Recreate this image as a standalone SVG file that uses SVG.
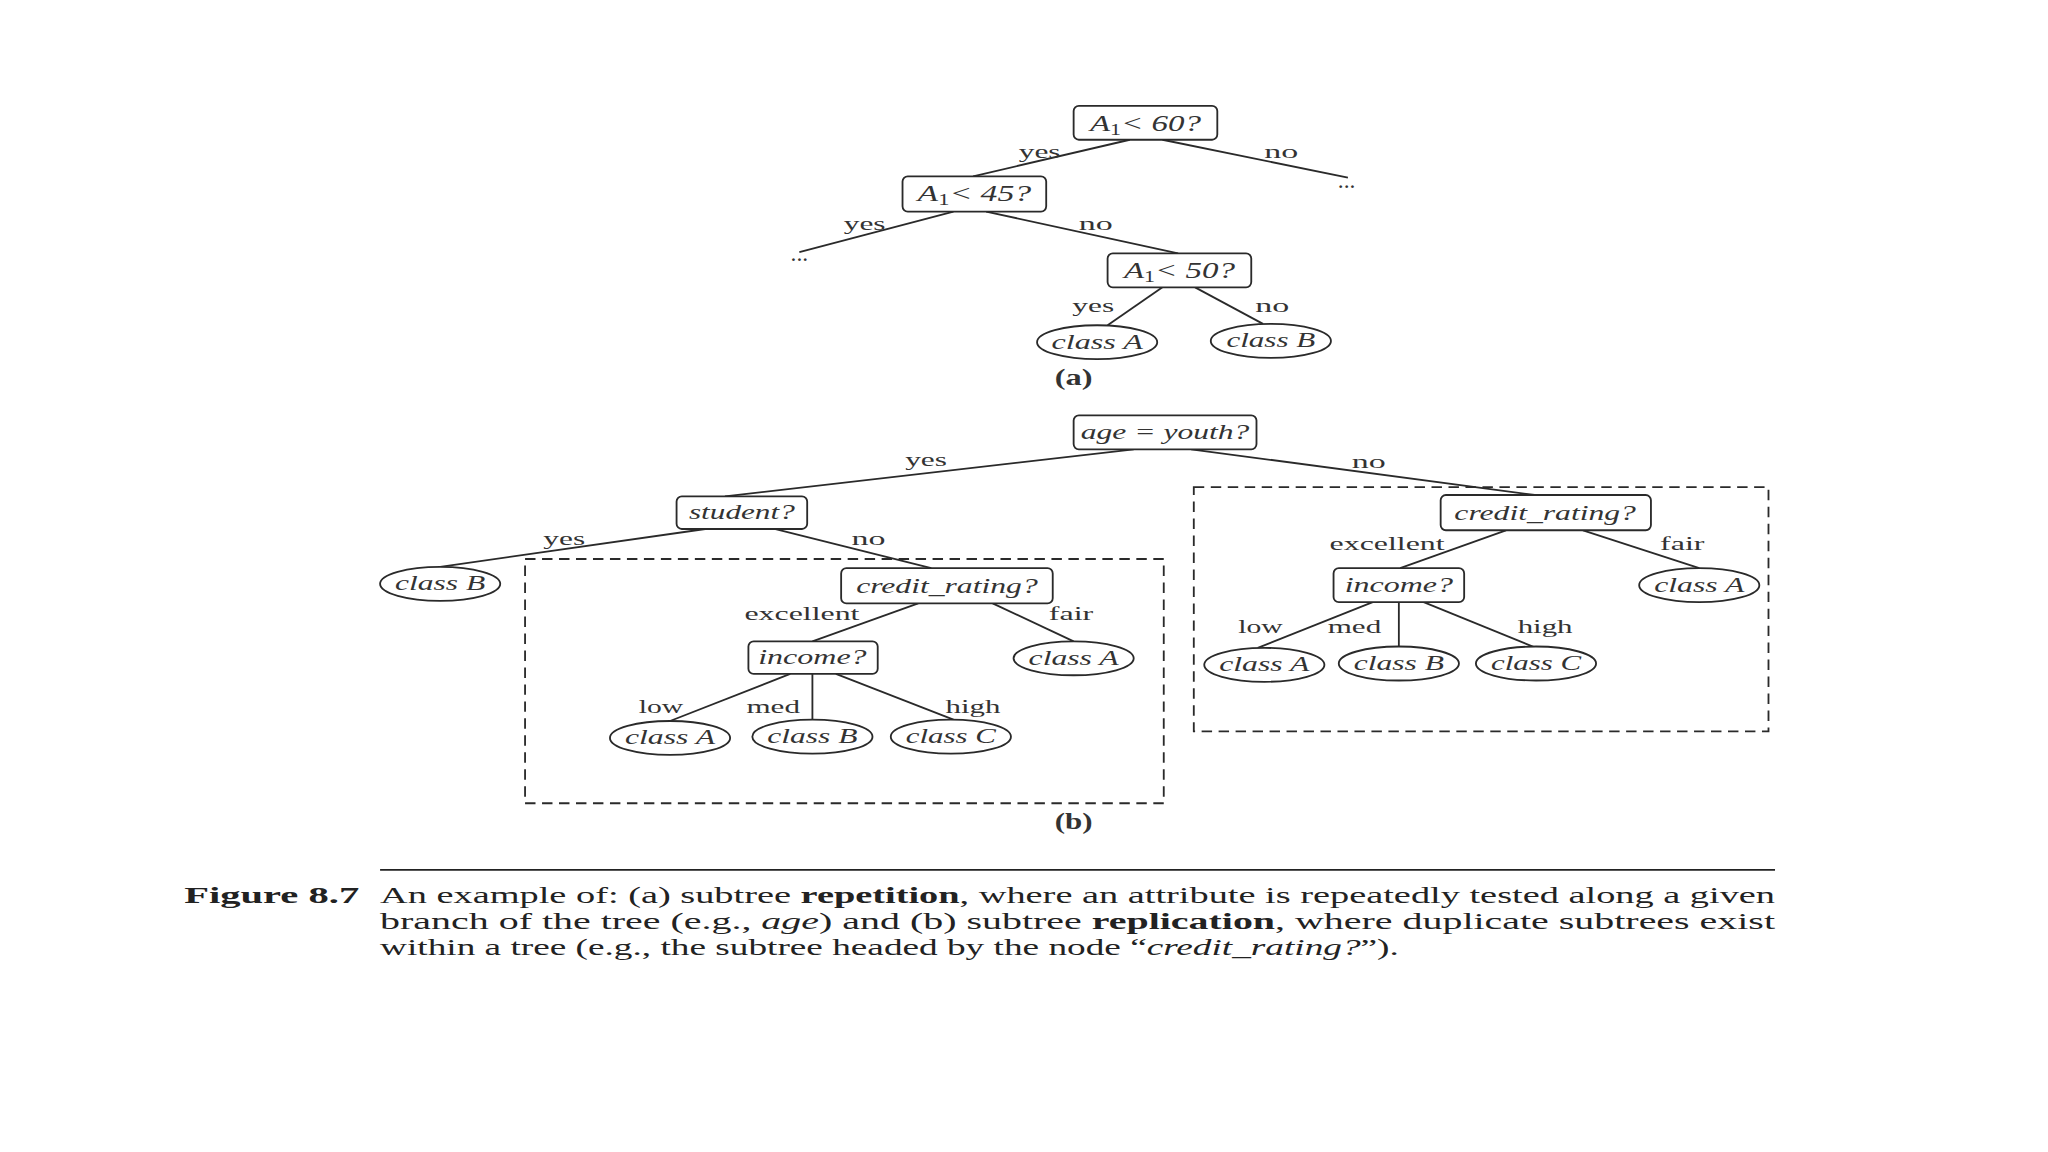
<svg xmlns="http://www.w3.org/2000/svg" width="2048" height="1152" viewBox="0 0 2048 1152">
<style>
.nd{fill:#fff;stroke:#2a2a2a;stroke-width:1.4}
.lf{fill:#fff;stroke:#2a2a2a;stroke-width:1.4}
.ed{stroke:#2a2a2a;stroke-width:1.4;fill:none}
.dash{fill:none;stroke:#2a2a2a;stroke-width:1.4;stroke-dasharray:8 5}
.nt{font-family:"Liberation Serif",serif;font-style:italic;font-size:16px;fill:#333;text-anchor:middle}
.at{font-family:"Liberation Serif",serif;font-style:italic;font-size:18px;fill:#333;text-anchor:middle}
.el{font-family:"Liberation Serif",serif;font-size:15px;fill:#333;text-anchor:middle}
.dots{font-family:"Liberation Serif",serif;font-size:18px;fill:#333;text-anchor:middle}
.lbl{font-family:"Liberation Serif",serif;font-size:17px;font-weight:bold;fill:#333;text-anchor:middle}
.cap{font-family:"Liberation Serif",serif;font-size:18px;fill:#222}
.sub{font-style:normal;font-size:12px}
</style>
<rect width="2048" height="1152" fill="#fff"/>
<g transform="scale(1.306122)">
<g id="connectors">
<line class="ed" x1="865" y1="107" x2="745" y2="135"/>
<line class="ed" x1="890" y1="107" x2="1032" y2="136"/>
<line class="ed" x1="730" y1="162" x2="612" y2="193"/>
<line class="ed" x1="755" y1="162" x2="902" y2="194"/>
<line class="ed" x1="890" y1="220" x2="848" y2="249"/>
<line class="ed" x1="915" y1="220" x2="967" y2="248"/>
<line class="ed" x1="868" y1="344" x2="555" y2="380"/>
<line class="ed" x1="912" y1="344" x2="1175" y2="379"/>
<line class="ed" x1="540" y1="405" x2="337" y2="434"/>
<line class="ed" x1="593" y1="405" x2="713" y2="435"/>
<line class="ed" x1="703" y1="462" x2="622" y2="491"/>
<line class="ed" x1="760" y1="462" x2="822" y2="491"/>
<line class="ed" x1="605" y1="516" x2="513" y2="552"/>
<line class="ed" x1="622" y1="516" x2="622" y2="551"/>
<line class="ed" x1="640" y1="516" x2="730" y2="551"/>
<line class="ed" x1="1153" y1="406" x2="1072" y2="435"/>
<line class="ed" x1="1212" y1="406" x2="1301" y2="435"/>
<line class="ed" x1="1051" y1="461" x2="963" y2="496"/>
<line class="ed" x1="1071" y1="461" x2="1071" y2="496"/>
<line class="ed" x1="1090" y1="461" x2="1176" y2="496"/>
<text class="el" x="796" y="121" textLength="32" lengthAdjust="spacingAndGlyphs">yes</text>
<text class="el" x="981" y="121" textLength="26" lengthAdjust="spacingAndGlyphs">no</text>
<text class="dots" x="1031" y="144">...</text>
<text class="el" x="662" y="176" textLength="32" lengthAdjust="spacingAndGlyphs">yes</text>
<text class="dots" x="612" y="200">...</text>
<text class="el" x="839" y="176" textLength="26" lengthAdjust="spacingAndGlyphs">no</text>
<text class="el" x="837" y="239" textLength="32" lengthAdjust="spacingAndGlyphs">yes</text>
<text class="el" x="974" y="239" textLength="26" lengthAdjust="spacingAndGlyphs">no</text>
<text class="el" x="709" y="357" textLength="32" lengthAdjust="spacingAndGlyphs">yes</text>
<text class="el" x="1048" y="358" textLength="26" lengthAdjust="spacingAndGlyphs">no</text>
<text class="el" x="432" y="417" textLength="32" lengthAdjust="spacingAndGlyphs">yes</text>
<text class="el" x="665" y="417" textLength="26" lengthAdjust="spacingAndGlyphs">no</text>
<text class="el" x="614" y="475" textLength="88" lengthAdjust="spacingAndGlyphs">excellent</text>
<text class="el" x="820" y="475" textLength="34" lengthAdjust="spacingAndGlyphs">fair</text>
<text class="el" x="506" y="546" textLength="34" lengthAdjust="spacingAndGlyphs">low</text>
<text class="el" x="592" y="546" textLength="41" lengthAdjust="spacingAndGlyphs">med</text>
<text class="el" x="745" y="546" textLength="42" lengthAdjust="spacingAndGlyphs">high</text>
<text class="el" x="1062" y="421" textLength="88" lengthAdjust="spacingAndGlyphs">excellent</text>
<text class="el" x="1288" y="421" textLength="34" lengthAdjust="spacingAndGlyphs">fair</text>
<text class="el" x="965" y="485" textLength="34" lengthAdjust="spacingAndGlyphs">low</text>
<text class="el" x="1037" y="485" textLength="41" lengthAdjust="spacingAndGlyphs">med</text>
<text class="el" x="1183" y="485" textLength="42" lengthAdjust="spacingAndGlyphs">high</text>
</g>
<g id="box-left"><rect class="dash" x="402" y="428" width="489" height="187"/></g>
<g id="box-right"><rect class="dash" x="914" y="373" width="440" height="187"/></g>
<g id="a-n1"><rect class="nd" x="822" y="81" width="110" height="26" rx="4"/><text class="at" x="877" y="100" textLength="85" lengthAdjust="spacingAndGlyphs">A<tspan class="sub" dy="3">1</tspan><tspan dy="-3">&lt; 60?</tspan></text></g>
<g id="a-n2"><rect class="nd" x="691" y="135" width="110" height="27" rx="4"/><text class="at" x="746" y="154" textLength="87" lengthAdjust="spacingAndGlyphs">A<tspan class="sub" dy="3">1</tspan><tspan dy="-3">&lt; 45?</tspan></text></g>
<g id="a-n3"><rect class="nd" x="848" y="194" width="110" height="26" rx="4"/><text class="at" x="903" y="213" textLength="85" lengthAdjust="spacingAndGlyphs">A<tspan class="sub" dy="3">1</tspan><tspan dy="-3">&lt; 50?</tspan></text></g>
<g id="a-ca"><ellipse class="lf" cx="840" cy="262" rx="46" ry="13"/><text class="nt" x="840" y="267" textLength="70" lengthAdjust="spacingAndGlyphs">class A</text></g>
<g id="a-cb"><ellipse class="lf" cx="973" cy="261" rx="46" ry="13"/><text class="nt" x="973" y="266" textLength="68" lengthAdjust="spacingAndGlyphs">class B</text></g>
<text class="lbl" x="822" y="295" textLength="29" lengthAdjust="spacingAndGlyphs">(a)</text>
<g id="b-root"><rect class="nd" x="822" y="318" width="140" height="26" rx="4"/><text class="nt" x="892" y="336" textLength="129" lengthAdjust="spacingAndGlyphs">age = youth?</text></g>
<g id="b-student"><rect class="nd" x="518" y="380" width="100" height="25" rx="4"/><text class="nt" x="568" y="397" textLength="81" lengthAdjust="spacingAndGlyphs">student?</text></g>
<g id="b-classB"><ellipse class="lf" cx="337" cy="447" rx="46" ry="13"/><text class="nt" x="337" y="452" textLength="69" lengthAdjust="spacingAndGlyphs">class B</text></g>
<g id="b-credit-l"><rect class="nd" x="644" y="435" width="162" height="27" rx="4"/><text class="nt" x="725" y="454" textLength="139" lengthAdjust="spacingAndGlyphs">credit_rating?</text></g>
<g id="b-income-l"><rect class="nd" x="573" y="491" width="99" height="25" rx="4"/><text class="nt" x="622" y="508" textLength="83" lengthAdjust="spacingAndGlyphs">income?</text></g>
<g id="b-fairA-l"><ellipse class="lf" cx="822" cy="504" rx="46" ry="13"/><text class="nt" x="822" y="509" textLength="69" lengthAdjust="spacingAndGlyphs">class A</text></g>
<g id="b-lowA-l"><ellipse class="lf" cx="513" cy="565" rx="46" ry="13"/><text class="nt" x="513" y="570" textLength="69" lengthAdjust="spacingAndGlyphs">class A</text></g>
<g id="b-medB-l"><ellipse class="lf" cx="622" cy="564" rx="46" ry="13"/><text class="nt" x="622" y="569" textLength="69" lengthAdjust="spacingAndGlyphs">class B</text></g>
<g id="b-highC-l"><ellipse class="lf" cx="728" cy="564" rx="46" ry="13"/><text class="nt" x="728" y="569" textLength="69" lengthAdjust="spacingAndGlyphs">class C</text></g>
<g id="b-credit-r"><rect class="nd" x="1103" y="379" width="161" height="27" rx="4"/><text class="nt" x="1183" y="398" textLength="139" lengthAdjust="spacingAndGlyphs">credit_rating?</text></g>
<g id="b-income-r"><rect class="nd" x="1021" y="435" width="100" height="26" rx="4"/><text class="nt" x="1071" y="453" textLength="83" lengthAdjust="spacingAndGlyphs">income?</text></g>
<g id="b-fairA-r"><ellipse class="lf" cx="1301" cy="448" rx="46" ry="13"/><text class="nt" x="1301" y="453" textLength="69" lengthAdjust="spacingAndGlyphs">class A</text></g>
<g id="b-lowA-r"><ellipse class="lf" cx="968" cy="509" rx="46" ry="13"/><text class="nt" x="968" y="514" textLength="69" lengthAdjust="spacingAndGlyphs">class A</text></g>
<g id="b-medB-r"><ellipse class="lf" cx="1071" cy="508" rx="46" ry="13"/><text class="nt" x="1071" y="513" textLength="69" lengthAdjust="spacingAndGlyphs">class B</text></g>
<g id="b-highC-r"><ellipse class="lf" cx="1176" cy="508" rx="46" ry="13"/><text class="nt" x="1176" y="513" textLength="69" lengthAdjust="spacingAndGlyphs">class C</text></g>
<text class="lbl" x="822" y="635" textLength="29" lengthAdjust="spacingAndGlyphs">(b)</text>
<g id="caption">
<line x1="291" y1="666" x2="1359" y2="666" stroke="#222" stroke-width="1.3"/>
<text class="cap" x="141" y="691" font-weight="bold" textLength="134" lengthAdjust="spacingAndGlyphs">Figure 8.7</text>
<text class="cap" x="291" y="691" textLength="1068" lengthAdjust="spacingAndGlyphs">An example of: (a) subtree <tspan font-weight="bold">repetition</tspan>, where an attribute is repeatedly tested along a given</text>
<text class="cap" x="291" y="711" textLength="1068" lengthAdjust="spacingAndGlyphs">branch of the tree (e.g., <tspan font-style="italic">age</tspan>) and (b) subtree <tspan font-weight="bold">replication</tspan>, where duplicate subtrees exist</text>
<text class="cap" x="291" y="731" textLength="780" lengthAdjust="spacingAndGlyphs">within a tree (e.g., the subtree headed by the node “<tspan font-style="italic">credit_rating?</tspan>”).</text>
</g>
</g>
</svg>
